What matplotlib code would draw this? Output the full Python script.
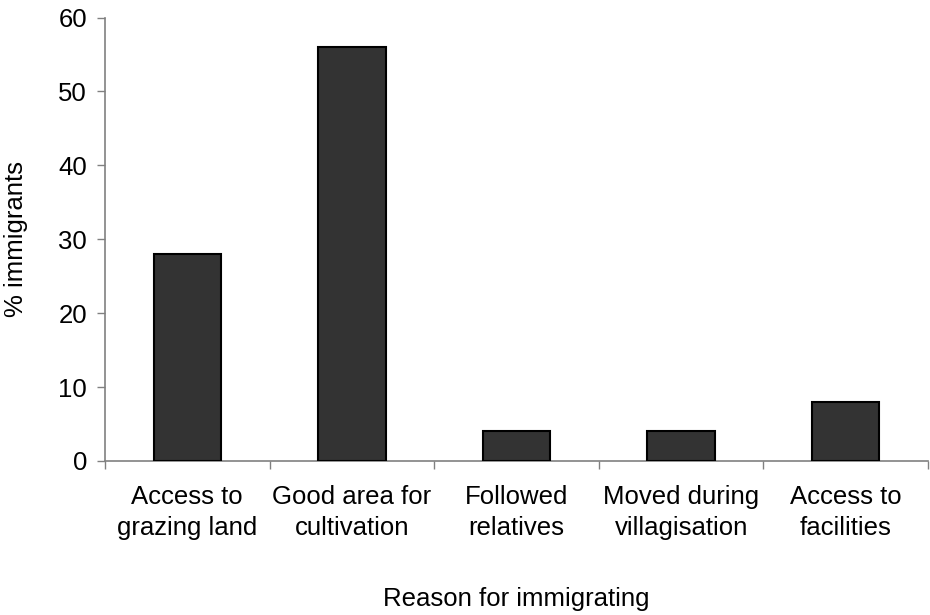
import matplotlib
matplotlib.use("Agg")
import matplotlib.pyplot as plt
import numpy as np

plt.rcParams['font.family'] = ['Liberation Sans', 'DejaVu Sans']

categories = ["Access to\ngrazing land", "Good area for\ncultivation", "Followed\nrelatives",
              "Moved during\nvillagisation", "Access to\nfacilities"]
values = [28, 56, 4, 4, 8]
yticks = [0, 10, 20, 30, 40, 50, 60]

FS = 18.5

fig = plt.figure(figsize=(9.3, 6.15), dpi=100)
ax = fig.add_axes([105/930, 1 - 461/615, (928 - 105)/930, (461 - 17.5)/615])

x = np.arange(len(categories))
ax.bar(x, values, width=0.41, color="#333333", edgecolor="black", linewidth=1.5, zorder=3)

ax.set_xlim(-0.5, len(categories) - 0.5)
ax.set_ylim(0, 60)
ax.set_yticks(yticks)
ax.tick_params(axis='y', labelsize=FS, length=6, width=1, color="#808080", direction="out", pad=7)

# category labels centred under bars, tick marks on category boundaries
ax.set_xticks(np.arange(len(categories) + 1) - 0.5)
ax.set_xticklabels([])
ax.set_xticks(x, minor=True)
ax.set_xticklabels(categories, minor=True, fontsize=FS, linespacing=1.4)
ax.tick_params(axis='x', which='major', length=6, width=1, color="#808080", direction="out")
ax.tick_params(axis='x', which='minor', length=0, pad=17)

for side in ("top", "right"):
    ax.spines[side].set_visible(False)
for side in ("left", "bottom"):
    ax.spines[side].set_color("#808080")
    ax.spines[side].set_linewidth(1.2)

ax.set_ylabel("% immigrants", fontsize=FS, labelpad=22)
ax.set_xlabel("Reason for immigrating", fontsize=FS, labelpad=34)

fig.savefig("out.png", dpi=100)
